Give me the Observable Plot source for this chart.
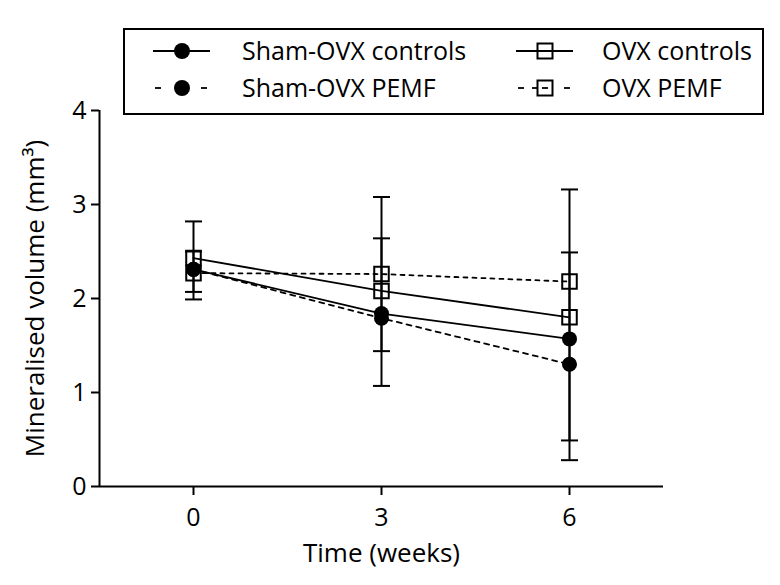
<!DOCTYPE html>
<html>
<head>
<meta charset="utf-8">
<script src="https://cdn.jsdelivr.net/npm/d3@7"></script>
<script src="https://cdn.jsdelivr.net/npm/@observablehq/plot@0.6"></script>
<style>
  html, body { margin: 0; padding: 0; background: #fff; }
  #wrap { position: relative; width: 780px; height: 585px; font-family: "Open Sans", sans-serif; }
  #legend { position: absolute; left: 123px; top: 28px; }
  #chart { position: absolute; left: 0; top: 0; }
  #chart svg text { font-size: 25px; font-family: "Open Sans", sans-serif; fill: #000; }
  #chart svg g[aria-label="x-axis label"] text, #chart svg g[aria-label="y-axis label"] text { font-size: 26px; }
</style>
</head>
<body>
<div id="wrap"><div id="chart"></div><div id="legend"></div></div>
<script>
// ---- data ----
const weeks = [0, 3, 6];
const seriesNames = ["Sham-OVX controls", "Sham-OVX PEMF", "OVX controls", "OVX PEMF"];
const shamControls = [2.31, 1.84, 1.57];
const shamPEMF = [2.31, 1.79, 1.30];
const ovxControls = [2.43, 2.08, 1.80];
const ovxPEMF = [2.27, 2.26, 2.18];
// error bars (as drawn)
const errWeeks = [0, 0, 3, 3, 6, 6];
const errLow = [1.99, 2.07, 1.44, 1.07, 0.49, 0.28];
const errHigh = [2.82, 2.50, 3.08, 2.64, 3.16, 2.49];
const xTicks = [0, 3, 6];
const yTicks = [0, 1, 2, 3, 4];
const xDomain = [-1.5, 7.5];
const yDomain = [0, 4];

const toRows = (vals) => weeks.map((w, i) => ({week: w, value: vals[i]}));
const errRows = errWeeks.map((w, i) => ({week: w, lo: errLow[i], hi: errHigh[i]}));

const capSymbol = {
  draw(ctx, size) {
    const w = Math.sqrt(size / Math.PI);
    ctx.moveTo(-w, 0);
    ctx.lineTo(w, 0);
  }
};

const font = "'Open Sans', sans-serif";
const plot = Plot.plot({
  width: 780,
  height: 585,
  marginLeft: 99,
  marginRight: 117,
  marginTop: 110,
  marginBottom: 99,
  style: {fontFamily: font, fontSize: "25px", color: "#000", background: "transparent"},
  x: {domain: xDomain},
  y: {domain: yDomain},
  marks: [
    Plot.axisX({ticks: xTicks, tickSize: 9, tickPadding: 13, tickFormat: d3.format("d"), strokeWidth: 2,
      label: "Time (weeks)", labelAnchor: "center", labelOffset: 75, labelArrow: "none"}),
    Plot.axisY({ticks: yTicks, tickSize: 8, tickPadding: 5, tickFormat: d3.format("d"), strokeWidth: 2,
      label: "Mineralised volume (mm³)", labelAnchor: "center", labelOffset: 74, labelArrow: "none"}),
    Plot.ruleY([yDomain[0]], {stroke: "#000", strokeWidth: 2}),
    Plot.ruleX([xDomain[0]], {stroke: "#000", strokeWidth: 2}),
    Plot.line(toRows(ovxPEMF), {x: "week", y: "value", stroke: "#000", strokeWidth: 1.8, strokeDasharray: "4,5"}),
    Plot.line(toRows(shamPEMF), {x: "week", y: "value", stroke: "#000", strokeWidth: 1.8, strokeDasharray: "5,5"}),
    Plot.line(toRows(ovxControls), {x: "week", y: "value", stroke: "#000", strokeWidth: 1.8}),
    Plot.line(toRows(shamControls), {x: "week", y: "value", stroke: "#000", strokeWidth: 1.8}),
    Plot.ruleX(errRows, {x: "week", y1: "lo", y2: "hi", stroke: "#000", strokeWidth: 2}),
    Plot.dot(errRows, {x: "week", y: "lo", symbol: capSymbol, r: 8.5, stroke: "#000", strokeWidth: 2, fill: "none"}),
    Plot.dot(errRows, {x: "week", y: "hi", symbol: capSymbol, r: 8.5, stroke: "#000", strokeWidth: 2, fill: "none"}),
    Plot.dot(toRows(ovxControls), {x: "week", y: "value", symbol: "square", r: 8.2, stroke: "#000", strokeWidth: 2, fill: "none"}),
    Plot.dot(toRows(ovxPEMF), {x: "week", y: "value", symbol: "square", r: 8.2, stroke: "#000", strokeWidth: 2, fill: "none"}),
    Plot.dot(toRows(shamControls), {x: "week", y: "value", r: 7.5, fill: "#000", stroke: "none"}),
    Plot.dot(toRows(shamPEMF), {x: "week", y: "value", r: 7.5, fill: "#000", stroke: "none"})
  ]
});
document.getElementById("chart").appendChild(plot);

// ---- legend (HTML-side SVG) ----
const lg = d3.select("#legend").append("svg").attr("width", 642).attr("height", 88);
lg.append("rect").attr("x", 1).attr("y", 1).attr("width", 639).attr("height", 85)
  .attr("fill", "#fff").attr("stroke", "#000").attr("stroke-width", 2);
const entries = [
  {name: seriesNames[0], col: 0, row: 0, dashed: false, sym: "circle"},
  {name: seriesNames[1], col: 0, row: 1, dashed: true, sym: "circle"},
  {name: seriesNames[2], col: 1, row: 0, dashed: false, sym: "square"},
  {name: seriesNames[3], col: 1, row: 1, dashed: true, sym: "square"}
];
const colX = [30, 393];
const rowY = [23, 60];
for (const e of entries) {
  const g = lg.append("g").attr("transform", `translate(${colX[e.col]},${rowY[e.row]})`);
  const cx = 29;
  if (e.dashed) {
    g.append("line").attr("x1", 2).attr("x2", 8).attr("y1", 0).attr("y2", 0).attr("stroke", "#000").attr("stroke-width", 1.8);
    g.append("line").attr("x1", 48).attr("x2", 54).attr("y1", 0).attr("y2", 0).attr("stroke", "#000").attr("stroke-width", 1.8);
    if (e.sym === "square") g.append("line").attr("x1", 16).attr("x2", 22).attr("y1", 0).attr("y2", 0).attr("stroke", "#000").attr("stroke-width", 1.8);
  } else {
    g.append("line").attr("x1", 0).attr("x2", 57).attr("y1", 0).attr("y2", 0).attr("stroke", "#000").attr("stroke-width", 1.8);
  }
  if (e.sym === "circle") {
    g.append("circle").attr("cx", cx).attr("cy", 0).attr("r", 8).attr("fill", "#000");
  } else {
    g.append("rect").attr("x", cx - 7.5).attr("y", -7.5).attr("width", 15).attr("height", 15)
      .attr("fill", "none").attr("stroke", "#000").attr("stroke-width", 2);
    if (e.dashed) g.append("line").attr("x1", cx - 3).attr("x2", cx + 3).attr("y1", 0).attr("y2", 0).attr("stroke", "#000").attr("stroke-width", 1.8);
    else g.append("line").attr("x1", cx - 7.5).attr("x2", cx + 7.5).attr("y1", 0).attr("y2", 0).attr("stroke", "#000").attr("stroke-width", 1.8);
  }
  g.append("text").attr("x", e.col === 0 ? 89 : 86).attr("y", 0).attr("dy", "0.36em")
    .attr("font-family", font).attr("font-size", 25).attr("fill", "#000").text(e.name);
}
</script>
</body>
</html>
